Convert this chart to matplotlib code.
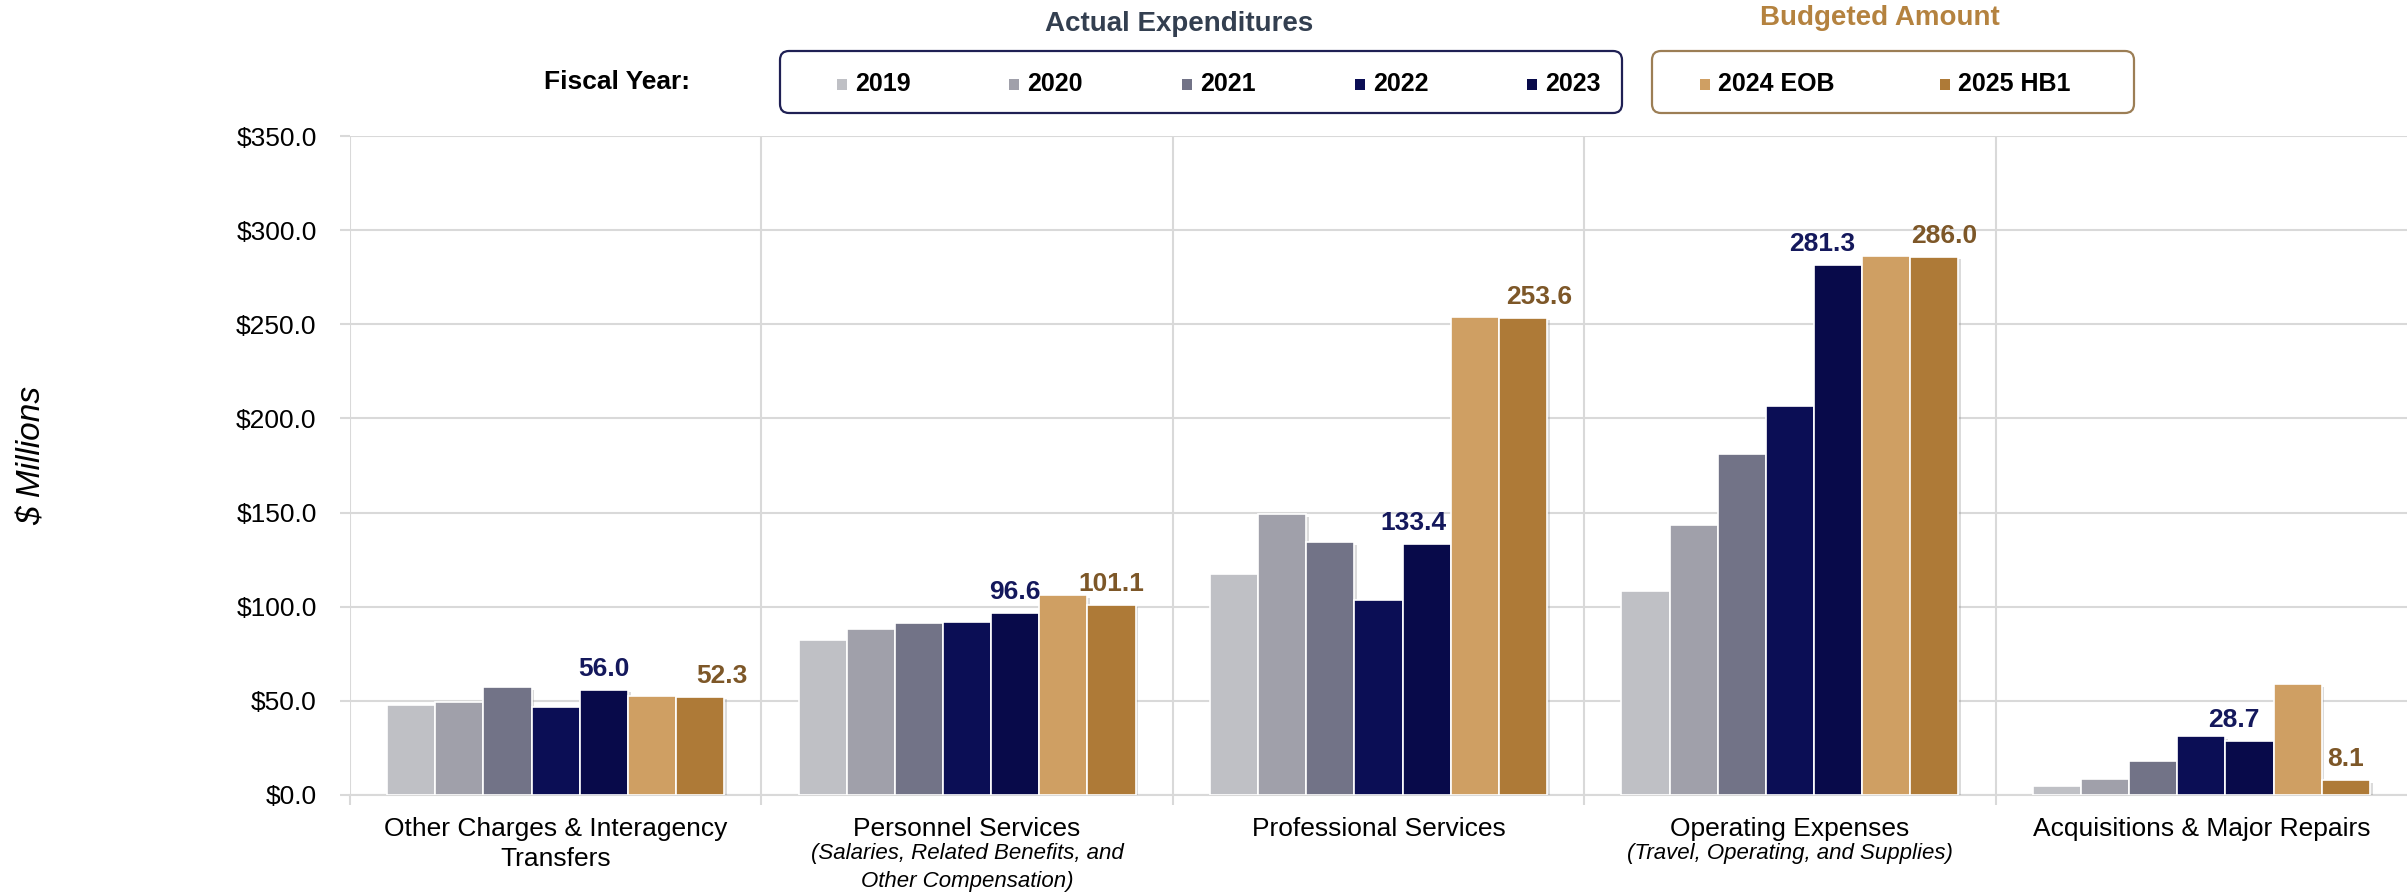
import numpy as np
import matplotlib
matplotlib.use("Agg")
import matplotlib.pyplot as plt
import matplotlib.patheffects as pe
from matplotlib.patches import FancyBboxPatch, Rectangle

plt.rcParams['font.family'] = ['Liberation Sans', 'DejaVu Sans']

# spending categories and fiscal-year series ($ millions)
categories = ["Other Charges & Interagency\nTransfers", "Personnel Services",
              "Professional Services", "Operating Expenses",
              "Acquisitions & Major Repairs"]
subtitles = ["", "(Salaries, Related Benefits, and\nOther Compensation)", "",
             "(Travel, Operating, and Supplies)", ""]

fy2019 = [48.0, 82.3, 117.5, 108.6, 4.6]
fy2020 = [49.2, 88.3, 149.3, 143.3, 8.7]
fy2021 = [57.4, 91.3, 134.5, 181.2, 18.3]
fy2022 = [46.5, 91.9, 103.6, 206.7, 31.2]
fy2023 = [56.0, 96.6, 133.4, 281.3, 28.7]
eob2024 = [52.8, 106.2, 253.8, 286.5, 58.7]
hb2025 = [52.3, 101.1, 253.6, 286.0, 8.1]

series_names = ["2019", "2020", "2021", "2022", "2023", "2024 EOB", "2025 HB1"]
series = [fy2019, fy2020, fy2021, fy2022, fy2023, eob2024, hb2025]
colors = ["#bfc0c5", "#a0a0aa", "#727387", "#0b0e55", "#080a4a", "#cf9f63", "#ae7a37"]

navy_label = "#14185c"
brown_label = "#7d5728"

W, H, DPI = 2407, 894, 100
fig = plt.figure(figsize=(W / DPI, H / DPI), dpi=DPI)
ax = fig.add_axes([350 / W, 1 - 795 / H, (W - 350) / W, (795 - 136) / H])

x = np.arange(len(categories))
bw = 0.117
shadow = [pe.SimplePatchShadow(offset=(2, -2), shadow_rgbFace="#888888", alpha=0.3), pe.Normal()]

for i, (vals, col) in enumerate(zip(series, colors)):
    bars = ax.bar(x + (i - 3) * bw, vals, width=bw, color=col,
                  edgecolor="white", linewidth=1.2, zorder=3)
    for b in bars:
        b.set_path_effects(shadow)

# value labels on the 2023 actuals and 2025 budget
nudge_2023 = [0, 0, -13, -16, -16]
nudge_2025 = [22, 0, 16, 10, 0]
for j in range(len(categories)):
    ax.annotate(f"{fy2023[j]:.1f}", xy=(x[j] + 1 * bw, fy2023[j]),
                xytext=(nudge_2023[j], 9), textcoords="offset pixels",
                ha="center", va="bottom", fontsize=19, fontweight="bold",
                color=navy_label, zorder=5)
    ax.annotate(f"{hb2025[j]:.1f}", xy=(x[j] + 3 * bw, hb2025[j]),
                xytext=(nudge_2025[j], 9), textcoords="offset pixels",
                ha="center", va="bottom", fontsize=19, fontweight="bold",
                color=brown_label, zorder=5)

ax.set_xlim(-0.5, 4.5)
ax.set_ylim(0, 350)
ax.set_yticks(np.arange(0, 351, 50))
ax.set_yticklabels([f"${v:.1f}" for v in np.arange(0, 351, 50)], fontsize=19)
ax.tick_params(axis="y", length=7, color="#d9d9d9", width=1.5, pad=17)

ax.set_xticks(x)
ax.set_xticklabels([])
ax.tick_params(axis="x", which="major", length=0)
ax.set_xticks(np.arange(-0.5, 4.0, 1.0), minor=True)
ax.tick_params(axis="x", which="minor", length=7, color="#d9d9d9", width=1.5)

ax.grid(axis="y", color="#d9d9d9", linewidth=1.5, zorder=0)
ax.grid(axis="x", which="minor", color="#d9d9d9", linewidth=1.5, zorder=0)
for s in ["top", "right", "left"]:
    ax.spines[s].set_visible(False)
ax.spines["bottom"].set_color("#d9d9d9")
ax.spines["bottom"].set_linewidth(1.5)
ax.set_axisbelow(True)

# category names under each group
for j in range(len(categories)):
    ax.annotate(categories[j], xy=(x[j], 0), xytext=(0, -22), textcoords="offset pixels",
                ha="center", va="top", fontsize=19, linespacing=1.32,
                annotation_clip=False)
    if subtitles[j]:
        ax.annotate(subtitles[j], xy=(x[j], 0), xytext=(0, -48), textcoords="offset pixels",
                    ha="center", va="top", fontsize=16, style="italic", linespacing=1.45,
                    annotation_clip=False)

fig.text(32 / W, 1 - 455 / H, "$ Millions", rotation=90, ha="center", va="center",
         fontsize=24, style="italic")

# legend header drawn in pixel space
px = fig.dpi_scale_trans


def pt(xp, yp):
    return xp / DPI, (H - yp) / DPI


def box(x0, x1, y0, y1, edge):
    fig.patches.append(FancyBboxPatch(pt(x0, y1), (x1 - x0) / DPI, (y1 - y0) / DPI,
                                      boxstyle="round,pad=0,rounding_size=0.09",
                                      transform=px, facecolor="white", edgecolor=edge,
                                      linewidth=1.6))


box(780, 1622, 51, 113, "#1f2054")
box(1652, 2134, 51, 113, "#9c7e55")

fig.text(*pt(1179, 24), "Actual Expenditures", transform=px, ha="center", va="center",
         fontsize=20, fontweight="bold", color="#333f50")
fig.text(*pt(1880, 18), "Budgeted Amount", transform=px, ha="center", va="center",
         fontsize=20, fontweight="bold", color="#b4823f")
fig.text(*pt(544, 82), "Fiscal Year:", transform=px, ha="left", va="center",
         fontsize=19, fontweight="bold", color="black")

marker_x = [837, 1009, 1182, 1355, 1527, 1700, 1940]
for name, col, mx in zip(series_names, colors, marker_x):
    fig.patches.append(Rectangle(pt(mx, 90), 10 / DPI, 11 / DPI, transform=px,
                                 facecolor=col, edgecolor="none"))
    fig.text(*pt(mx + 18, 84), name, transform=px, ha="left", va="center",
             fontsize=18, fontweight="bold", color="black")

fig.savefig("out.png", dpi=DPI)
